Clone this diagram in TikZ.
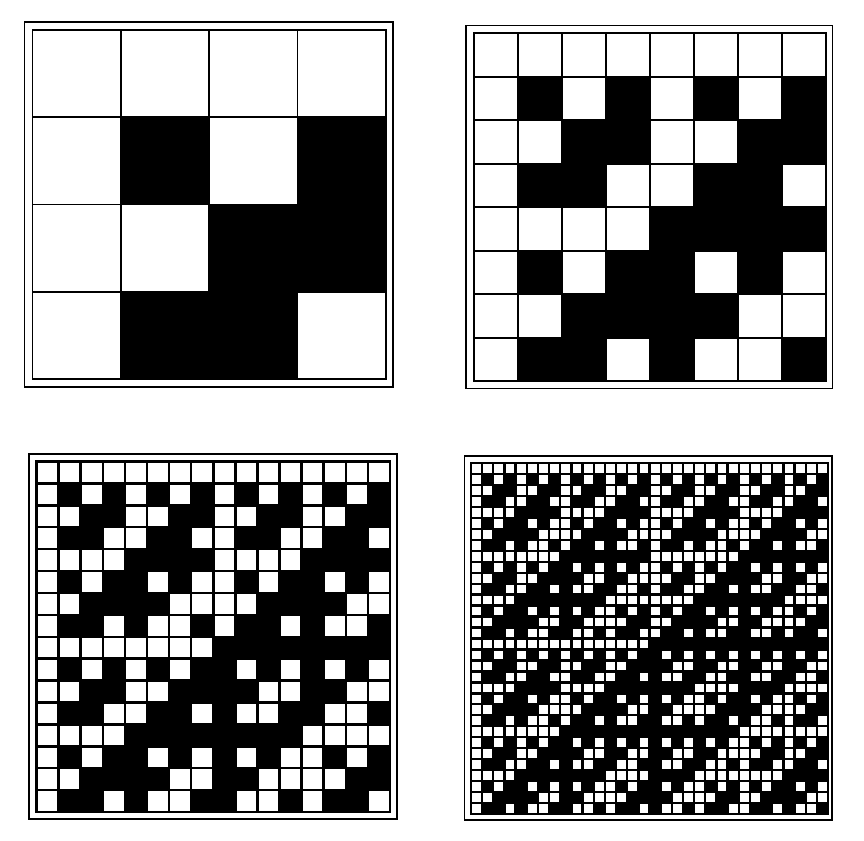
\documentclass[tikz,border=0pt]{standalone}
\tikzset{frame/.style={draw=black,line width=1.8pt}}
\newcommand{\hgap}{1.5}
\newcommand{\hadpanel}[9]{%
  \draw[frame] (#1,#2) rectangle (#3,#4);
  \fill[black] ({#5-\hgap/2},{#6-\hgap/2}) rectangle ({#7+\hgap/2},{#8+\hgap/2});
  \pgfmathsetmacro\cw{(#7-#5)/#9}
  \pgfmathsetmacro\ch{(#8-#6)/#9}
  \pgfmathtruncatemacro\nmax{#9-1}
  \foreach \i in {0,...,\nmax}{
    \foreach \j in {0,...,\nmax}{
      \pgfmathtruncatemacro\hp{mod(mod(\i,2)*mod(\j,2)+mod(floor(\i/2),2)*mod(floor(\j/2),2)+mod(floor(\i/4),2)*mod(floor(\j/4),2)+mod(floor(\i/8),2)*mod(floor(\j/8),2)+mod(floor(\i/16),2)*mod(floor(\j/16),2),2)}
      \ifnum\hp=0
        \fill[white] ({#5+\j*\cw+\hgap/2},{#6+\i*\ch+\hgap/2}) rectangle ({#5+(\j+1)*\cw-\hgap/2},{#6+(\i+1)*\ch-\hgap/2});
      \fi
    }
  }
}
\begin{document}
\begin{tikzpicture}[x=1pt,y=-1pt]
\useasboundingbox (0,0) rectangle (864,840);
\fill[white] (0,0) rectangle (864,840);
\renewcommand{\hgap}{1.6}
\hadpanel{24.5}{22}{393}{387}{32.5}{30}{386}{379}{4}
\renewcommand{\hgap}{2}
\hadpanel{466}{25.5}{832.5}{388.5}{473.5}{33.5}{826}{381}{8}
\renewcommand{\hgap}{2.5}
\hadpanel{29}{454}{397}{819}{36.5}{461.5}{390}{812}{16}
\renewcommand{\hgap}{2.3}
\hadpanel{464.5}{456}{832}{820}{471}{463}{828}{814}{32}
\end{tikzpicture}
\end{document}
